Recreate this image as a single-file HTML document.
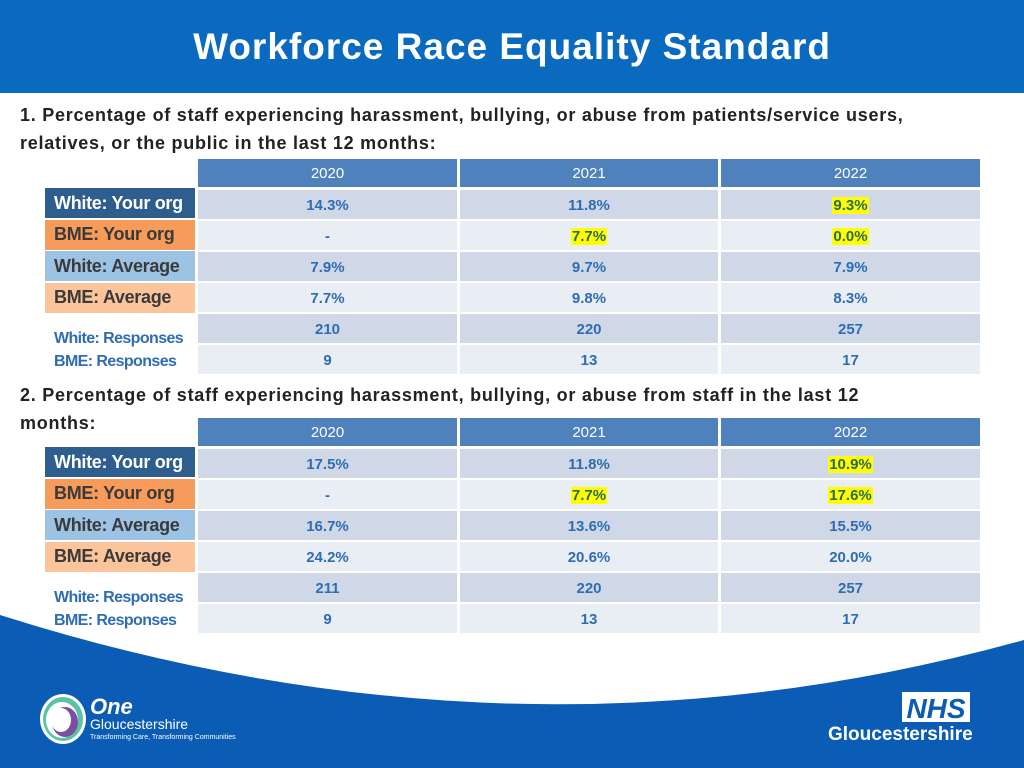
<!DOCTYPE html>
<html><head><meta charset="utf-8">
<style>
body{margin:0;width:1024px;height:768px;position:relative;overflow:hidden;background:#fff;font-family:"Liberation Sans",sans-serif}
.a{position:absolute}
.hdr{background:#4F81BD;color:#fff;font-size:15px;text-align:center;line-height:30px}
.c{font-size:15px;color:#2E6DB4;text-align:center;font-weight:bold;display:flex;align-items:center;justify-content:center;padding-top:2px;box-sizing:border-box}
.c1{background:#D0D8E8}.c2{background:#E9EDF4}
.hl{background:#FFFF00;color:#2A6A55;padding:0 1px}
.lab{font-weight:bold;font-size:18px;padding-left:9px;box-sizing:border-box;display:flex;align-items:center;letter-spacing:-0.3px}
.resp{font-weight:bold;font-size:16px;color:#2E6DB4;letter-spacing:-0.6px}
.q{font-weight:bold;font-size:18px;color:#222;letter-spacing:0.75px;white-space:nowrap}
</style></head><body>
<div class="a" style="left:0;top:0;width:1024px;height:93px;background:#0A6ABF"></div>
<div class="a" style="left:0;top:26px;width:1024px;text-align:center;color:#fff;font-weight:bold;font-size:37px;letter-spacing:1px">Workforce Race Equality Standard</div>
<div class="a q" style="left:20px;top:101px;line-height:28px">1. Percentage of staff experiencing harassment, bullying, or abuse from patients/service users,<br>relatives, or the public in the last 12 months:</div>
<div class="a q" style="left:20px;top:381px;line-height:28px">2. Percentage of staff experiencing harassment, bullying, or abuse from staff in the last 12<br>months:</div>
<svg class="a" style="left:0;top:600px" width="1024" height="168"><path d="M0,15 Q520,180 1024,40 L1024,168 L0,168Z" fill="#0A5CB5"/></svg>
<svg class="a" style="left:38px;top:692px" width="50" height="54"><ellipse cx="25" cy="27" rx="23" ry="25" fill="#fff"/><ellipse cx="25" cy="27" rx="20" ry="22" fill="#5BC2A8"/><ellipse cx="24" cy="28" rx="16" ry="18" fill="#fff"/><ellipse cx="27" cy="30" rx="13" ry="15" fill="#7B4FA0"/><ellipse cx="23" cy="28" rx="10" ry="12" fill="#fff"/></svg>
<div class="a" style="left:90px;top:694px;color:#fff;font-style:italic;font-weight:bold;font-size:22px">One</div>
<div class="a" style="left:90px;top:716px;color:#fff;font-size:14px">Gloucestershire</div>
<div class="a" style="left:90px;top:734px;color:#fff;font-size:7px">Transforming Care, Transforming Communities</div>
<div class="a" style="left:902px;top:692px;width:68px;height:30px;border:2px solid #fff;color:#0A5CB5;background:#fff;font-weight:bold;font-style:italic;font-size:28px;text-align:center;line-height:30px;box-sizing:border-box">NHS</div>
<div class="a" style="left:828px;top:724px;color:#fff;font-weight:bold;font-size:19px">Gloucestershire</div>
<script>
const years=["2020","2021","2022"];
const t1=[["14.3%","11.8%","9.3%"],["-","7.7%","0.0%"],["7.9%","9.7%","7.9%"],["7.7%","9.8%","8.3%"],["210","220","257"],["9","13","17"]];
const t2=[["17.5%","11.8%","10.9%"],["-","7.7%","17.6%"],["16.7%","13.6%","15.5%"],["24.2%","20.6%","20.0%"],["211","220","257"],["9","13","17"]];
const hl1=[[0,2],[1,1],[1,2]];
const hl2=[[0,2],[1,1],[1,2]];
const labels=["White: Your org","BME: Your org","White: Average","BME: Average"];
const labBg=["#2D5E8E","#F79B5A","#9CC2E4","#FBC49A"];
const labFg=["#fff","#3a3a3a","#3a3a3a","#3a3a3a"];
const colX=[198,460,721],colW=[259,258,259];
function mk(cls,css,txt){const d=document.createElement('div');d.className='a '+cls;d.style.cssText=css;if(txt!==undefined)d.textContent=txt;document.body.appendChild(d);return d;}
function table(top,data,hl,n){
  for(let j=0;j<3;j++){
    const h=mk('hdr',`left:${colX[j]}px;top:${top}px;width:${colW[j]}px;height:28px`,years[j]);
    
    
  }
  for(let i=0;i<6;i++){
    const y=top+31+i*31;
    for(let j=0;j<3;j++){
      const c=mk('c '+(i%2?'c2':'c1'),`left:${colX[j]}px;top:${y}px;width:${colW[j]}px;height:29px`);
      
      
      const s=document.createElement('span');s.textContent=data[i][j];
      if(hl.some(p=>p[0]==i&&p[1]==j))s.className='hl';
      c.appendChild(s);
    }
  }
  for(let i=0;i<4;i++){
    const l=mk('lab',`left:45px;top:${top+29+i*31.5}px;width:150px;height:30px;background:${labBg[i]};color:${labFg[i]}`,labels[i]);
    
    
  }
  const r1=mk('resp',`left:54px;top:${top+171}px`,'White: Responses');
  
  
  const r2=mk('resp',`left:54px;top:${top+194}px`,'BME: Responses');
  
  
}
table(159,t1,hl1,1);
table(418,t2,hl2,2);
</script>
</body></html>
